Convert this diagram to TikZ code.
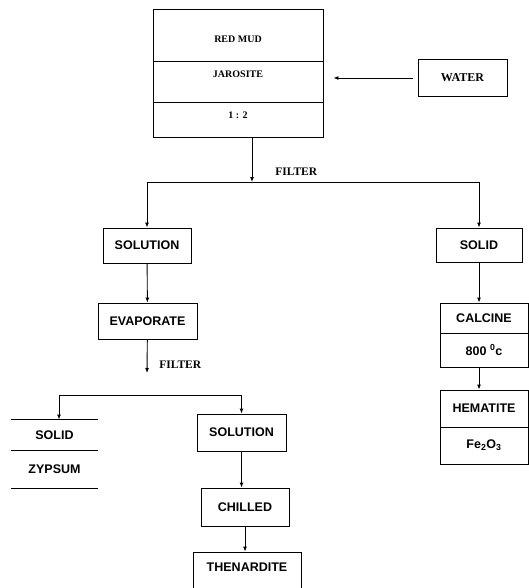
\documentclass[tikz,border=0pt]{standalone}
\usepackage{fontspec}
\setmainfont{Liberation Serif}
\setsansfont{Liberation Sans}
\usetikzlibrary{arrows.meta}

\begin{document}
\begin{tikzpicture}[x=1pt, y=-1pt,
		line width=0.9pt,
		cell/.style={draw, inner sep=0pt},
		feed/.style={inner sep=0pt, font=\bfseries\fontsize{10}{12}\selectfont},
		stage/.style={draw, inner sep=0pt, font=\sffamily\bfseries\fontsize{12.5}{14}\selectfont},
		plain/.style={inner sep=0pt, font=\sffamily\bfseries\fontsize{12.5}{14}\selectfont},
		tag/.style={anchor=west, inner sep=0pt, font=\bfseries\fontsize{11.5}{13}\selectfont},
		flow/.style={-{Latex[length=5pt,width=4pt]}},
	]
	\useasboundingbox (0,0) rectangle (529,588);
	\fill[white] (0,0) rectangle (529,588);

	% feed
	\node[cell, minimum width=170, minimum height=52] (redmud) at (238,35) {};
	\node[cell, minimum width=170, minimum height=41] (jarosite) at (238,81.5) {};
	\node[cell, minimum width=170, minimum height=35] (ratio) at (238,119.5) {};
	\node[feed] (redmudtx) at (238,39) {RED MUD};
	\node[feed] (jarositetx) at (238,74) {JAROSITE};
	\node[feed] (ratiotx) at (238,115) {1 : 2};
	\node[cell, font=\bfseries\fontsize{12}{14}\selectfont, minimum width=89, minimum height=37] (water) at (462.5,78) {WATER};
	\draw[flow, shorten <=5pt, shorten >=10pt] (water.west) -- (water.west -| jarosite.east);

	% first filter
	\coordinate (split1) at (252,182);
	\draw[flow] (ratio.south -| split1) -- (split1);
	\node[tag] (filter1) at (275,172) {FILTER};

	\node[stage, minimum width=88, minimum height=35] (solution1) at (147,245.5) {SOLUTION};
	\node[stage, minimum width=86, minimum height=34] (solid1) at (479,245) {SOLID};
	\draw[flow] (split1) -| (solution1);
	\draw[flow] (split1) -| (solid1);

	% solution branch
	\node[stage, minimum width=99, minimum height=36] (evaporate) at (147.5,321) {EVAPORATE};
	\draw[flow] (solution1) -- (evaporate);
	\coordinate (filter2end) at (147,373);
	\draw[flow] (evaporate) -- (filter2end);
	\node[tag] (filter2) at (159,365) {FILTER};

	\coordinate (split2) at (147,395);
	\node[plain, minimum width=87, minimum height=31] (solid2) at (54.5,435.5) {SOLID};
	\node[plain, minimum width=87, minimum height=37] (zypsum) at (54.5,469.5) {ZYPSUM};
	\draw (solid2.north west) -- (solid2.north east)
	(zypsum.north west) -- (zypsum.north east)
	(zypsum.south west) -- (zypsum.south east);
	\node[stage, minimum width=89, minimum height=37] (solution2) at (241.5,432.5) {SOLUTION};
	\draw[flow] (split2) -| ([xshift=4.5pt]solid2.north);
	\draw[flow] (split2) -| (solution2);

	\node[stage, minimum width=88, minimum height=38] (chilled) at (245,507) {CHILLED};
	\node[stage, minimum width=108, minimum height=46] (thenardite) at (247,575) {};
	\node[plain] (thenarditetx) at (247,567) {THENARDITE};
	\draw[flow] (solution2) -- (solution2 |- chilled.north);
	\draw[flow] (chilled) -- (chilled |- thenardite.north);

	% solid branch
	\node[stage, minimum width=88, minimum height=30] (calcine) at (484,318) {CALCINE};
	\node[stage, minimum width=88, minimum height=34] (temp) at (484,350) {800 \textsuperscript{0}c};
	\node[stage, minimum width=88, minimum height=37] (hematite) at (484,408.5) {HEMATITE};
	\node[stage, minimum width=88, minimum height=37] (oxide) at (484,445.5) {Fe\textsubscript{2}O\textsubscript{3}};
	\draw[flow] (solid1) -- (solid1 |- calcine.north);
	\draw[flow] (temp.south -| solid1) -- (solid1 |- hematite.north);
\end{tikzpicture}
\end{document}
